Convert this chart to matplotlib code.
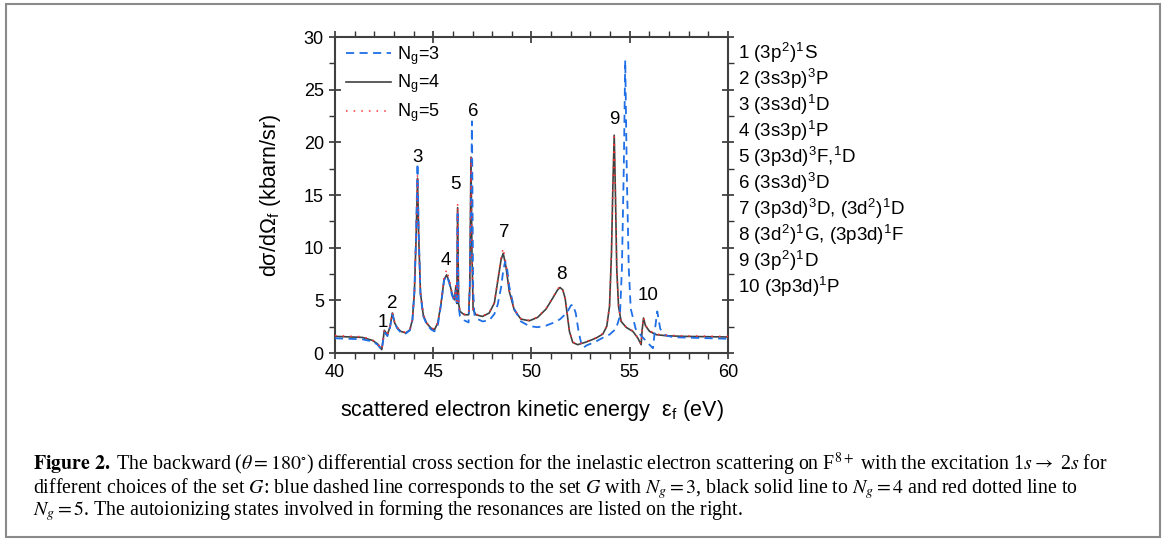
import matplotlib
matplotlib.use('Agg')
import matplotlib.pyplot as plt
from matplotlib.patches import Rectangle

plt.rcParams['font.family'] = ['Liberation Sans', 'DejaVu Sans']
plt.rcParams['mathtext.fontset'] = 'stix'

# Ng = 4 (black) and Ng = 5 (red) share the same energy grid
energy = [40.0, 41.39, 41.90, 42.16, 42.38, 42.45, 42.51, 42.67, 42.80, 42.92,
          43.04, 43.18, 43.35, 43.60, 43.81, 43.94, 44.04, 44.13, 44.20, 44.26,
          44.35, 44.49, 44.66, 44.88, 45.06, 45.23, 45.40, 45.55, 45.68, 45.81,
          45.95, 46.08, 46.15, 46.20, 46.24, 46.29, 46.36, 46.58, 46.80, 46.86,
          46.92, 46.97, 47.03, 47.17, 47.51, 47.85, 48.11, 48.28, 48.45, 48.56,
          48.70, 48.87, 49.12, 49.46, 49.89, 50.31, 50.74, 51.08, 51.33, 51.45,
          51.59, 51.71, 51.81, 51.93, 52.10, 52.35, 52.78, 53.29, 53.63, 53.83,
          53.97, 54.07, 54.14, 54.21, 54.27, 54.34, 54.43, 54.56, 54.82, 55.16,
          55.41, 55.58, 55.63, 55.70, 55.80, 56.01, 56.35, 56.86, 57.71, 60.0]
ng4 = [1.58, 1.48, 1.20, 0.88, 0.32, 1.26, 2.15, 1.74, 2.5, 3.8,
       2.84, 2.37, 2.05, 1.9, 2.2, 3.16, 5.7, 11.05, 16.6, 11.05,
       5.7, 3.63, 2.84, 2.37, 2.2, 2.84, 4.74, 6.95, 7.42, 6.8,
       5.68, 5.05, 6.3, 4.7, 13.8, 4.7, 3.95, 3.63, 3.63, 6.3,
       18.6, 9.5, 4.1, 3.63, 3.47, 3.8, 4.74, 6.8, 8.84, 9.47,
       8.2, 5.84, 4.1, 3.22, 3.06, 3.38, 4.17, 5.21, 6.0, 6.22,
       6.0, 5.21, 3.8, 2.05, 1.0, 0.79, 1.04, 1.42, 1.8, 2.53,
       4.42, 9.47, 15.8, 20.68, 15.16, 7.9, 4.42, 3.0, 2.43, 2.05,
       1.42, 0.79, 2.2, 3.32, 2.59, 2.05, 1.74, 1.64, 1.58, 1.52]
ng5 = [1.65, 1.55, 1.25, 0.92, 0.35, 1.3, 2.2, 1.8, 2.55, 3.85,
       2.9, 2.42, 2.1, 1.95, 2.25, 3.2, 5.8, 11.3, 17.0, 11.3,
       5.8, 3.68, 2.9, 2.42, 2.25, 2.9, 4.85, 7.2, 7.9, 7.0,
       5.8, 5.1, 6.4, 4.8, 14.2, 4.8, 4.0, 3.68, 3.68, 6.4,
       18.6, 9.6, 4.15, 3.68, 3.52, 3.85, 4.8, 6.95, 9.1, 9.95,
       8.5, 5.95, 4.15, 3.27, 3.1, 3.42, 4.22, 5.28, 6.08, 6.3,
       6.08, 5.28, 3.85, 2.1, 1.05, 0.83, 1.08, 1.46, 1.85, 2.6,
       4.5, 9.6, 15.8, 20.5, 15.1, 7.9, 4.45, 3.05, 2.48, 2.1,
       1.46, 0.83, 2.25, 3.38, 2.64, 2.1, 1.79, 1.69, 1.63, 1.57]

# Ng = 3 (blue)
energy3 = [40.0, 41.39, 41.90, 42.16, 42.38, 42.45, 42.51, 42.67, 42.80, 42.92,
           43.04, 43.18, 43.35, 43.60, 43.81, 43.94, 44.04, 44.13, 44.20, 44.26,
           44.35, 44.49, 44.66, 44.88, 45.06, 45.23, 45.40, 45.55, 45.68, 45.81,
           45.95, 46.08, 46.15, 46.20, 46.24, 46.29, 46.36, 46.58, 46.80, 46.86,
           46.92, 46.97, 47.03, 47.10, 47.17, 47.51, 47.85, 48.11, 48.28, 48.45,
           48.56, 48.66, 48.76, 48.87, 49.12, 49.46, 49.89, 50.31, 50.74, 51.08,
           51.45, 51.81, 52.00, 52.10, 52.25, 52.40, 52.55, 52.65, 52.78, 53.29,
           53.63, 53.97, 54.30, 54.50, 54.60, 54.70, 54.77, 54.85, 54.95, 55.05,
           55.30, 55.60, 55.95, 56.18, 56.30, 56.40, 56.55, 56.80, 57.20, 60.0]
ng3 = [1.4, 1.3, 1.1, 0.8, 0.3, 1.2, 2.0, 1.6, 2.4, 3.7,
       2.8, 2.3, 1.95, 1.85, 2.15, 3.1, 5.8, 11.5, 18.0, 11.5,
       5.6, 3.5, 2.75, 2.25, 2.05, 2.6, 4.6, 6.9, 7.35, 6.7,
       5.5, 4.9, 6.0, 4.5, 13.5, 4.4, 3.5, 3.1, 2.9, 6.5,
       14.0, 22.0, 6.0, 3.6, 3.3, 3.0, 3.1, 3.7, 4.6, 6.2,
       7.8, 8.7, 8.0, 6.3, 4.2, 3.0, 2.55, 2.45, 2.6, 2.85,
       3.2, 3.85, 4.5, 4.6, 3.8, 2.0, 0.75, 0.5, 0.7, 1.1,
       1.45, 1.75, 2.3, 3.5, 8.0, 18.0, 27.8, 17.0, 8.0, 4.2,
       2.3, 1.6, 0.9, 0.45, 2.5, 3.95, 2.3, 1.7, 1.5, 1.35]

# resonance labels (number, energy, height)
peak_ids = ['1', '2', '3', '4', '5', '6', '7', '8', '9', '10']
peak_x = [42.45, 42.89, 44.2, 45.64, 46.15, 47.03, 48.6, 51.54, 54.19, 55.92]
peak_y = [2.85, 4.67, 18.6, 8.8, 16.0, 22.9, 11.4, 7.5, 22.2, 5.5]

states = [r'1 (3p$^{\mathregular{2}}$)$^{\mathregular{1}}$S',
          r'2 (3s3p)$^{\mathregular{3}}$P',
          r'3 (3s3d)$^{\mathregular{1}}$D',
          r'4 (3s3p)$^{\mathregular{1}}$P',
          r'5 (3p3d)$^{\mathregular{3}}$F,$^{\mathregular{1}}$D',
          r'6 (3s3d)$^{\mathregular{3}}$D',
          r'7 (3p3d)$^{\mathregular{3}}$D, (3d$^{\mathregular{2}}$)$^{\mathregular{1}}$D',
          r'8 (3d$^{\mathregular{2}}$)$^{\mathregular{1}}$G, (3p3d)$^{\mathregular{1}}$F',
          r'9 (3p$^{\mathregular{2}}$)$^{\mathregular{1}}$D',
          r'10 (3p3d)$^{\mathregular{1}}$P']

caption = [r'$\mathbf{Figure\ 2.}$ The backward ($\theta = 180^{\circ}$) differential cross section for the inelastic electron scattering on F$^{8+}$ with the excitation 1$s \rightarrow$ 2$s$ for',
           r'different choices of the set $G$: blue dashed line corresponds to the set $G$ with $N_g = 3$, black solid line to $N_g = 4$ and red dotted line to',
           r'$N_g = 5$. The autoionizing states involved in forming the resonances are listed on the right.']

fig = plt.figure(figsize=(11.68, 5.42), dpi=100)
ax = fig.add_axes([0.2868, 0.3487, 0.3365, 0.5830])

ax.plot(energy, ng4, color='#404040', lw=1.2, zorder=2, label=r'N$_{\mathregular{g}}$=4')
ax.plot(energy3, ng3, color='#1f6fe6', lw=1.3, dashes=(4.5, 3), zorder=3, label=r'N$_{\mathregular{g}}$=3')
ax.plot(energy, ng5, color='#ff3030', lw=1.1, linestyle=(0, (1, 4)), zorder=4, label=r'N$_{\mathregular{g}}$=5')

for lab, px, py in zip(peak_ids, peak_x, peak_y):
    ax.text(px, py, lab, fontsize=13.5, ha='center', va='center')

ax.set_xlim(40, 60)
ax.set_ylim(0, 30)
ax.set_xticks([40, 45, 50, 55, 60])
ax.set_yticks([0, 5, 10, 15, 20, 25, 30])
ax.set_xticks(range(40, 61), minor=True)
ax.set_yticks([2.5 * i for i in range(13)], minor=True)
ax.tick_params(which='major', direction='inout', length=8, width=1.2,
               top=True, right=True, labelsize=13, pad=4, color='#333333')
ax.tick_params(which='minor', direction='out', length=4, width=1.0,
               top=True, right=True, color='#333333')
for sp in ax.spines.values():
    sp.set_linewidth(1.5)
    sp.set_color('#404040')

ax.set_xlabel(r'scattered electron kinetic energy  ε$_{\mathregular{f}}$ (eV)', fontsize=15.5)
ax.set_ylabel(r'dσ/dΩ$_{\mathregular{f}}$ (kbarn/sr)', fontsize=15.5)
ax.xaxis.set_label_coords(0.5, -0.143)
ax.yaxis.set_label_coords(-0.133, 0.5)

handles, labels = ax.get_legend_handles_labels()
order = [1, 0, 2]
ax.legend([handles[i] for i in order], [labels[i] for i in order],
          loc='upper left', bbox_to_anchor=(0.028, 0.978), frameon=False,
          fontsize=13, handlelength=2.5, handletextpad=0.3,
          labelspacing=0.35, borderpad=0, borderaxespad=0)

for i, s in enumerate(states):
    ax.text(1.026, (353 - 53 - 26.0 * i) / 316, s, transform=ax.transAxes,
            fontsize=13.5, ha='left', va='center')

# caption as one block so the lines keep the tight journal spacing
fig.text(33 / 1168, 1 - 487 / 542, '\n'.join(caption),
         family='Liberation Serif', fontsize=14.3, ha='left', va='center',
         linespacing=0.86)

fig.add_artist(Rectangle((6 / 1168, 5 / 542), 1154 / 1168, 533 / 542,
                         transform=fig.transFigure, fill=False,
                         ec='#8a8a8a', lw=1.5))

fig.savefig('out.png', dpi=100)
